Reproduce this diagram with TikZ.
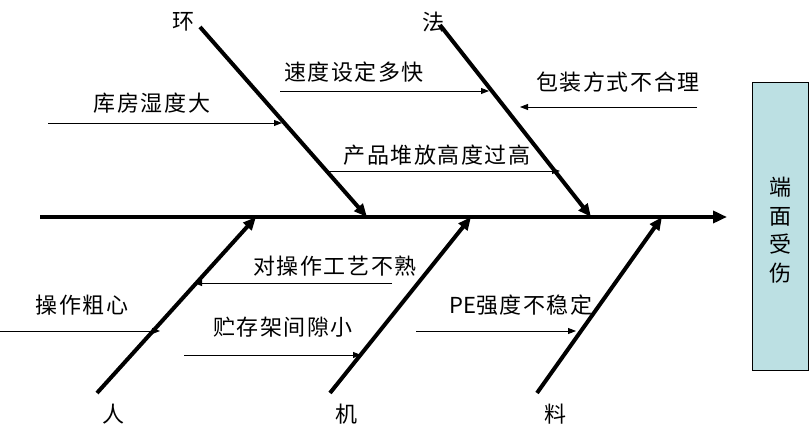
\documentclass[tikz,border=0pt]{standalone}
\usepackage{fontspec}
\newfontfamily\cjk[LetterSpace=7]{Noto Sans CJK SC}
\newfontfamily\cjkplain{Noto Sans CJK SC}
\usetikzlibrary{arrows.meta}
\tikzset{
  lbl/.style={font=\cjk\fontsize{22}{26}\selectfont, inner sep=0pt, anchor=center},
  bone/.style={line width=4pt, -{Triangle[length=13pt,width=11pt]}},
  spine/.style={line width=4pt, -{Triangle[length=14pt,width=12pt]}},
  cause/.style={line width=0.9pt, -{Triangle[length=8pt,width=6pt]}},
  effect/.style={draw=black, line width=1pt, fill=effectfill, minimum width=56pt, minimum height=288pt, inner sep=0pt},
  efftxt/.style={font=\cjk\fontsize{22}{28.5}\selectfont, align=center, inner sep=0pt}
}
\definecolor{effectfill}{HTML}{BCE0E3}
\begin{document}
\begin{tikzpicture}[x={(1pt,0)}, y={(0,-1pt)}]
\useasboundingbox (0,0) rectangle (809,443);
% effect box
\node[effect] (eff) at (780,227) {};
\node[efftxt] (efftext) at (780,230) {端\\面\\受\\伤};
% spine
\coordinate (s0) at (40,217);
\coordinate (s1) at (727,217);
\draw[spine] (s0) -- (s1);
% branch end points
\coordinate (h1) at (200,27);  \coordinate (h2) at (367,217);
\coordinate (f1) at (440,25);  \coordinate (f2) at (591,217);
\coordinate (r1) at (97,393);  \coordinate (r2) at (256,217);
\coordinate (j1) at (330,393); \coordinate (j2) at (471,217);
\coordinate (l1) at (537,393); \coordinate (l2) at (662,217);
\draw[bone] (h1) -- (h2);
\draw[bone] (f1) -- (f2);
\draw[bone] (r1) -- (r2);
\draw[bone] (j1) -- (j2);
\draw[bone] (l1) -- (l2);
% branch labels
\node[lbl] (lh) at (183,22) {环};
\node[lbl] (lf) at (433,22) {法};
\node[lbl] (lr) at (113,414) {人};
\node[lbl] (lj) at (346,414) {机};
\node[lbl] (ll) at (555,414) {料};
% causes
\coordinate (c1a) at (48,123);  \coordinate (c1b) at (282,123);
\draw[cause] (c1a) -- (c1b);
\node[lbl] (t1) at (152,103) {库房湿度大};
\coordinate (c2a) at (280,91);  \coordinate (c2b) at (489,91);
\draw[cause] (c2a) -- (c2b);
\node[lbl] (t2) at (354,72) {速度设定多快};
\coordinate (c3a) at (697,107); \coordinate (c3b) at (520,107);
\draw[cause] (c3a) -- (c3b);
\node[lbl] (t3) at (618,82) {包装方式不合理};
\coordinate (c4a) at (328,171); \coordinate (c4b) at (560,171);
\draw[cause] (c4a) -- (c4b);
\node[lbl] (t4) at (437,155) {产品堆放高度过高};
\coordinate (c5a) at (392,283); \coordinate (c5b) at (194,283);
\draw[cause] (c5a) -- (c5b);
\node[lbl] (t5) at (335,266) {对操作工艺不熟};
\coordinate (c6a) at (0,331);   \coordinate (c6b) at (160,331);
\draw[cause] (c6a) -- (c6b);
\node[lbl] (t6) at (82,305) {操作粗心};
\coordinate (c7a) at (184,355); \coordinate (c7b) at (361,355);
\draw[cause] (c7a) -- (c7b);
\node[lbl] (t7) at (283,327) {贮存架间隙小};
\coordinate (c8a) at (416,331); \coordinate (c8b) at (576,331);
\draw[cause] (c8a) -- (c8b);
\node[lbl] (t8) at (521,305) {{\cjkplain PE}强度不稳定};
\end{tikzpicture}
\end{document}
